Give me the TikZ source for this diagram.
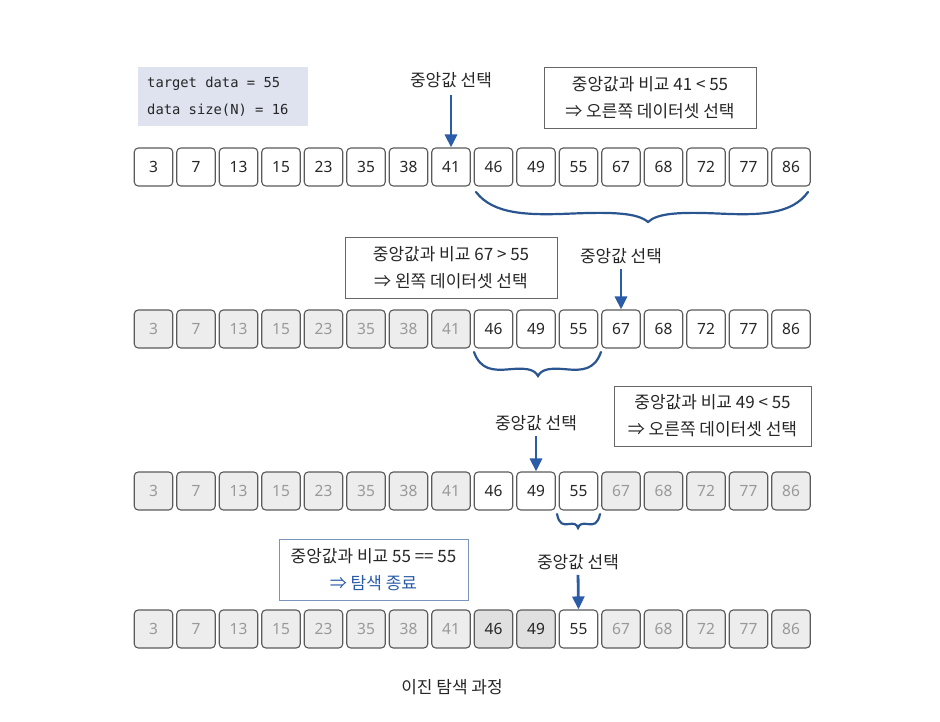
\documentclass[tikz,border=0pt]{standalone}
\usepackage{fontspec}
\setmainfont{Noto Sans CJK KR}
\newfontfamily\monof{DejaVu Sans Mono}
\newfontfamily\numf{Noto Sans}
\usetikzlibrary{arrows.meta}
\definecolor{arrblue}{HTML}{2A5CA8}
\definecolor{braceblue}{HTML}{2B5590}
\definecolor{cellline}{HTML}{5A5A5A}
\definecolor{infofill}{HTML}{DEE3EF}
\definecolor{endline}{HTML}{7A95BC}
\newcommand\mybrace[5]{% left, tip x, right, y0, h
  \draw[brace] (#1,#4)
    .. controls ({#1+0.10*(#2-#1)},{#4+0.75*#5}) and ({#1+0.30*(#2-#1)},{#4+0.78*#5}) .. ({#1+0.55*(#2-#1)},{#4+0.72*#5})
    .. controls ({#1+0.80*(#2-#1)},{#4+0.66*#5}) and ({#2-0.06*(#2-#1)},{#4+0.70*#5}) .. (#2,{#4+#5})
    .. controls ({#2+0.06*(#3-#2)},{#4+0.70*#5}) and ({#2+0.20*(#3-#2)},{#4+0.66*#5}) .. ({#2+0.45*(#3-#2)},{#4+0.72*#5})
    .. controls ({#2+0.70*(#3-#2)},{#4+0.78*#5}) and ({#2+0.90*(#3-#2)},{#4+0.75*#5}) .. (#3,#4);}
\begin{document}
\begin{tikzpicture}[x=1pt,y=-1pt,
  cellbase/.style={draw=cellline,line width=1.1pt,rounded corners=4pt,minimum width=38.5pt,minimum height=38pt,inner sep=0pt,font=\numf\fontsize{15.5}{15.5}\selectfont},
  cellw/.style={cellbase,fill=white,text=black!85},
  cellg/.style={cellbase,fill=black!7,text=black!40},
  celld/.style={cellbase,fill=black!12,text=black!85},
  lab/.style={font=\fontsize{17}{17}\selectfont,text=black!85,inner sep=2pt},
  cmp/.style={draw=black!60,line width=0.8pt,fill=white,align=center,font=\fontsize{17}{27}\selectfont,text=black!85,inner sep=0pt},
  arr/.style={draw=arrblue,line width=2.8pt,-{Triangle[length=13pt,width=12pt]}},
  brace/.style={draw=braceblue,line width=2.2pt,line cap=round},
]
\useasboundingbox (0,0) rectangle (940,722);

% info box
\node[fill=infofill,minimum width=170pt,minimum height=59pt,inner sep=0pt] (info) at (223,96.5) {};
\node[anchor=west,inner sep=0pt,align=left,font=\monof\fontsize{13.8}{27}\selectfont,text=black!85] (infotext) at (147,96.5) {target data = 55\\data size(N) = 16};

% row 1
\foreach \v/\s [count=\i] in {3/cellw,7/cellw,13/cellw,15/cellw,23/cellw,35/cellw,38/cellw,41/cellw,46/cellw,49/cellw,55/cellw,67/cellw,68/cellw,72/cellw,77/cellw,86/cellw}
  \node[\s] (a\i) at ({153.5+42.5*(\i-1)},167) {\v};
% row 2
\foreach \v/\s [count=\i] in {3/cellg,7/cellg,13/cellg,15/cellg,23/cellg,35/cellg,38/cellg,41/cellg,46/cellw,49/cellw,55/cellw,67/cellw,68/cellw,72/cellw,77/cellw,86/cellw}
  \node[\s] (b\i) at ({153.5+42.5*(\i-1)},329) {\v};
% row 3
\foreach \v/\s [count=\i] in {3/cellg,7/cellg,13/cellg,15/cellg,23/cellg,35/cellg,38/cellg,41/cellg,46/cellw,49/cellw,55/cellw,67/cellg,68/cellg,72/cellg,77/cellg,86/cellg}
  \node[\s] (c\i) at ({153.5+42.5*(\i-1)},491) {\v};
% row 4
\foreach \v/\s [count=\i] in {3/cellg,7/cellg,13/cellg,15/cellg,23/cellg,35/cellg,38/cellg,41/cellg,46/celld,49/celld,55/cellw,67/cellg,68/cellg,72/cellg,77/cellg,86/cellg}
  \node[\s] (d\i) at ({153.5+42.5*(\i-1)},629) {\v};

% step 1
\node[lab] (m1) at (451,80) {중앙값 선택};
\draw[arr,shorten <=5pt] (m1.south) -- (a8.north);
\node[cmp,minimum width=212pt,minimum height=61pt] (k1) at (650,97.5) {중앙값과 비교 41 < 55\\⇒ 오른쪽 데이터셋 선택};
\mybrace{476}{648}{808}{192}{30}

% step 2
\node[cmp,minimum width=212pt,minimum height=61pt] (k2) at (451,267.5) {중앙값과 비교 67 > 55\\⇒ 왼쪽 데이터셋 선택};
\node[lab] (m2) at (621,256) {중앙값 선택};
\draw[arr,shorten <=3pt] (m2.south) -- (b12.north);
\mybrace{474}{538}{601}{352}{24}

% step 3
\node[cmp,minimum width=197pt,minimum height=60pt] (k3) at (712.5,416) {중앙값과 비교 49 < 55\\⇒ 오른쪽 데이터셋 선택};
\node[lab] (m3) at (536,423) {중앙값 선택};
\draw[arr,shorten <=3pt] (m3.south) -- (c10.north);
\mybrace{557}{578}{600}{514}{14}

% step 4
\node[cmp,draw=endline,minimum width=189pt,minimum height=61pt] (k4) at (373.5,569.5) {중앙값과 비교 55 == 55\\\textcolor{arrblue}{⇒ 탐색 종료}};
\node[lab] (m4) at (578,562) {중앙값 선택};
\draw[arr,shorten <=3pt] (m4.south) -- (d11.north);

% caption
\node[lab] (cap) at (452,687) {이진 탐색 과정};
\end{tikzpicture}
\end{document}
